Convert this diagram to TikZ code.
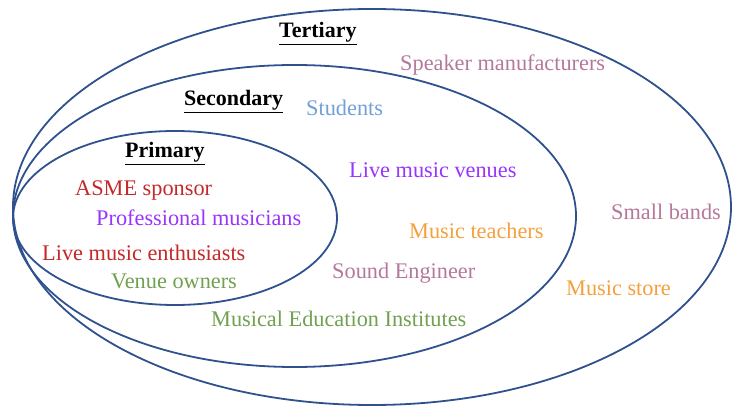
\documentclass[tikz,border=0pt]{standalone}
\usepackage{fontspec}
\setmainfont{Liberation Serif}
\usetikzlibrary{positioning}
\definecolor{ringBlue}{RGB}{47,82,143}
\definecolor{stakeRed}{RGB}{196,40,40}
\definecolor{stakePurple}{RGB}{153,51,255}
\definecolor{stakeBlue}{RGB}{112,160,214}
\definecolor{stakeMauve}{RGB}{180,120,155}
\definecolor{stakeOrange}{RGB}{245,160,60}
\definecolor{stakeGreen}{RGB}{112,160,80}

\begin{document}
\begin{tikzpicture}[
  x=1pt,y=-1pt,
  font=\fontsize{22.3}{26}\selectfont,
  ring/.style={draw=ringBlue,line width=1.8pt},
  lbl/.style={inner sep=0pt,anchor=base west},
  head/.style={lbl,font=\fontsize{22}{26}\selectfont\bfseries}
]
\useasboundingbox (0,0) rectangle (732,406);

% stakeholder rings
\draw[ring] (372,207) ellipse [x radius=359,y radius=198];
\draw[ring] (294.5,216) ellipse [x radius=281.5,y radius=151];
\draw[ring] (175,218) ellipse [x radius=162,y radius=87];

% headings
\node[head] (tert) at (279,38) {\underline{Tertiary}};
\node[head] (sec) at (184,106) {\underline{Secondary}};
\node[head] (prim) at (125,158) {\underline{Primary}};

% primary
\node[lbl,stakeRed] (asme) at (75,196) {ASME sponsor};
\node[lbl,stakePurple] (pros) at (96,226) {Professional musicians};
\node[lbl,stakeRed] (fans) at (42,261) {Live music enthusiasts};
\node[lbl,stakeGreen] (owners) at (111,289) {Venue owners};

% secondary
\node[lbl,stakeBlue] (stud) at (306,116) {Students};
\node[lbl,stakePurple] (venues) at (349,178) {Live music venues};
\node[lbl,stakeOrange] (teach) at (409,239) {Music teachers};
\node[lbl,stakeMauve] (sound) at (332,279) {Sound Engineer};
\node[lbl,stakeGreen] (inst) at (211,327) {Musical Education Institutes};

% tertiary
\node[lbl,stakeMauve] (speak) at (400,71) {Speaker manufacturers};
\node[lbl,stakeMauve] (bands) at (611,220) {Small bands};
\node[lbl,stakeOrange] (store) at (566,296) {Music store};
\end{tikzpicture}
\end{document}
